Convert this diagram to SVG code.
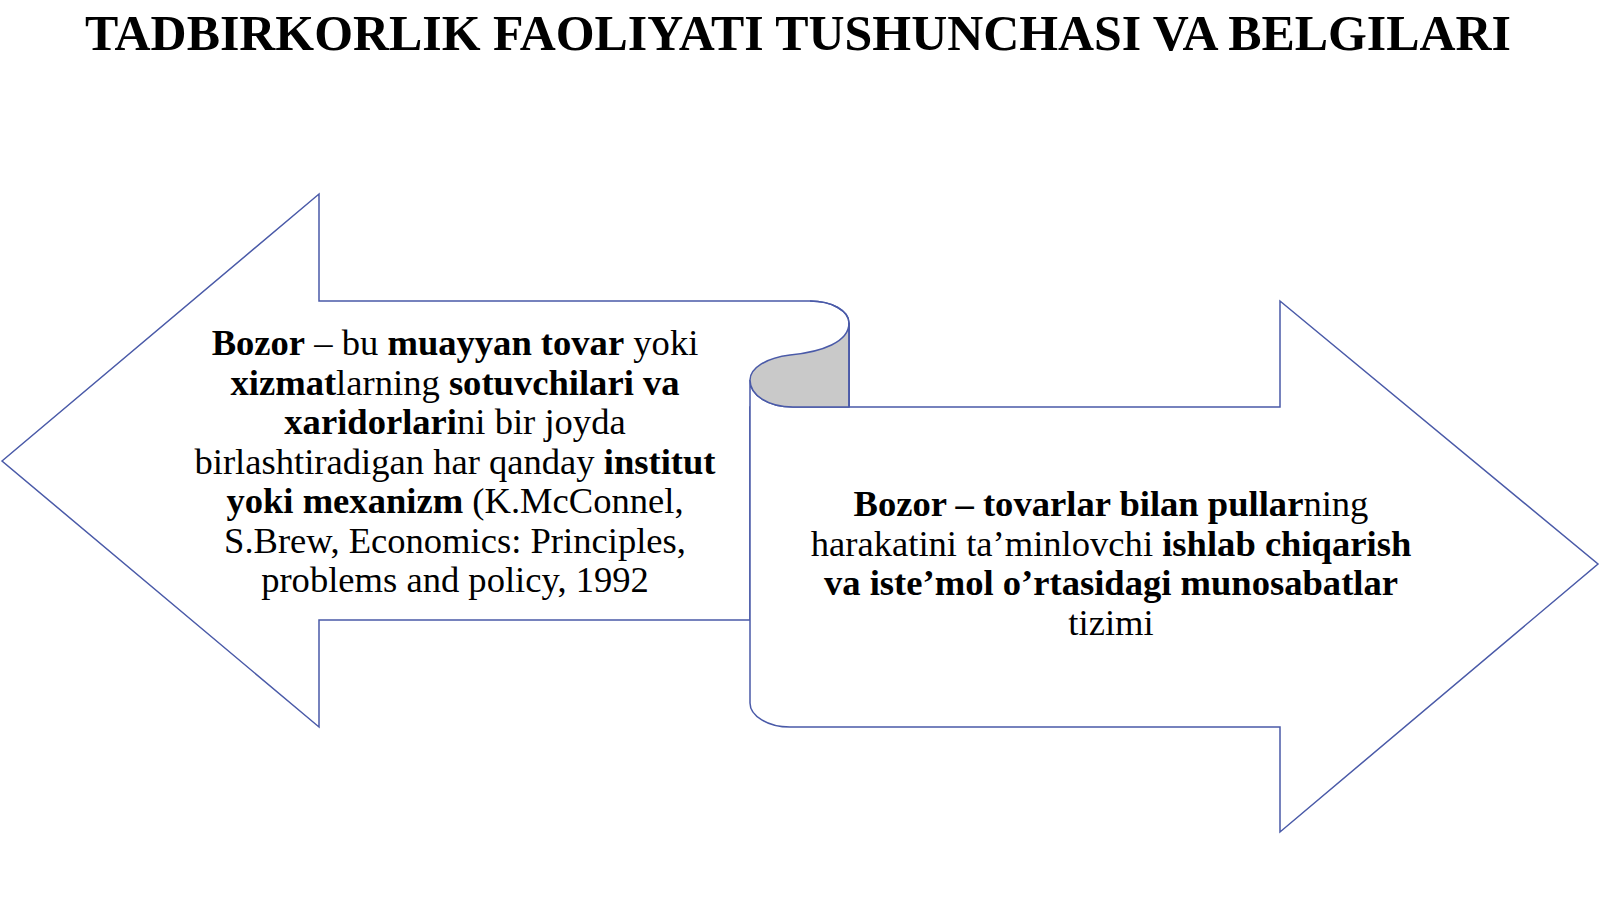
<svg xmlns="http://www.w3.org/2000/svg" width="1600" height="899" viewBox="0 0 1600 899">
<style>
.shape{fill:#ffffff;stroke:#4a5aa8;stroke-width:1.5;stroke-linejoin:miter}
.curl{fill:#c9c9c9;stroke:#4a5aa8;stroke-width:1.5}
.line{fill:none;stroke:#4a5aa8;stroke-width:1.5}
.t{font-family:"Liberation Serif","Times New Roman",serif;font-size:36.6px;fill:#000;text-anchor:middle}
.b{font-weight:bold}
.title{font-family:"Liberation Serif","Times New Roman",serif;font-size:49.9px;font-weight:bold;fill:#000;text-anchor:middle}
</style>
<rect width="1600" height="899" fill="#ffffff"/>
<text class="title" x="798" y="50">TADBIRKORLIK FAOLIYATI TUSHUNCHASI VA BELGILARI</text>
<g id="left-arrow">
<path class="shape" d="M2,461 L319,194 L319,301 L810,301 C832,301 849,311 849,323 L849,407 L750,407 L750,620 L319,620 L319,727 Z"/>
</g>
<g id="right-arrow">
<path class="shape" d="M750,380 L750,703 C750,716 768,727 790,727 L1280,727 L1280,832 L1598,564 L1280,301 L1280,407 L793,407 C768,407 750,395 750,380 Z"/>
</g>
<g id="scroll-curl">
<path class="curl" d="M849,323 C849,342 822,352 790,355 C766,358 750,368 750,380 C750,395 768,407 793,407 L849,407 Z"/>
<path class="line" d="M810,301 C832,301 849,311 849,323 L849,407"/>
</g>
<g id="left-text">
<text class="t" x="455" y="355"><tspan class="b">Bozor</tspan> – bu <tspan class="b">muayyan tovar</tspan> yoki</text>
<text class="t" x="455" y="394.5"><tspan class="b">xizmat</tspan>larning <tspan class="b">sotuvchilari va</tspan></text>
<text class="t" x="455" y="434"><tspan class="b">xaridorlari</tspan>ni bir joyda</text>
<text class="t" x="455" y="473.5">birlashtiradigan har qanday <tspan class="b">institut</tspan></text>
<text class="t" x="455" y="513"><tspan class="b">yoki mexanizm</tspan> (K.McConnel,</text>
<text class="t" x="455" y="552.5">S.Brew, Economics: Principles,</text>
<text class="t" x="455" y="592">problems and policy, 1992</text>
</g>
<g id="right-text">
<text class="t" x="1111" y="516"><tspan class="b">Bozor – tovarlar bilan pullar</tspan>ning</text>
<text class="t" x="1111" y="555.5">harakatini ta’minlovchi <tspan class="b">ishlab chiqarish</tspan></text>
<text class="t" x="1111" y="595"><tspan class="b">va iste’mol o’rtasidagi munosabatlar</tspan></text>
<text class="t" x="1111" y="634.5">tizimi</text>
</g>
</svg>
